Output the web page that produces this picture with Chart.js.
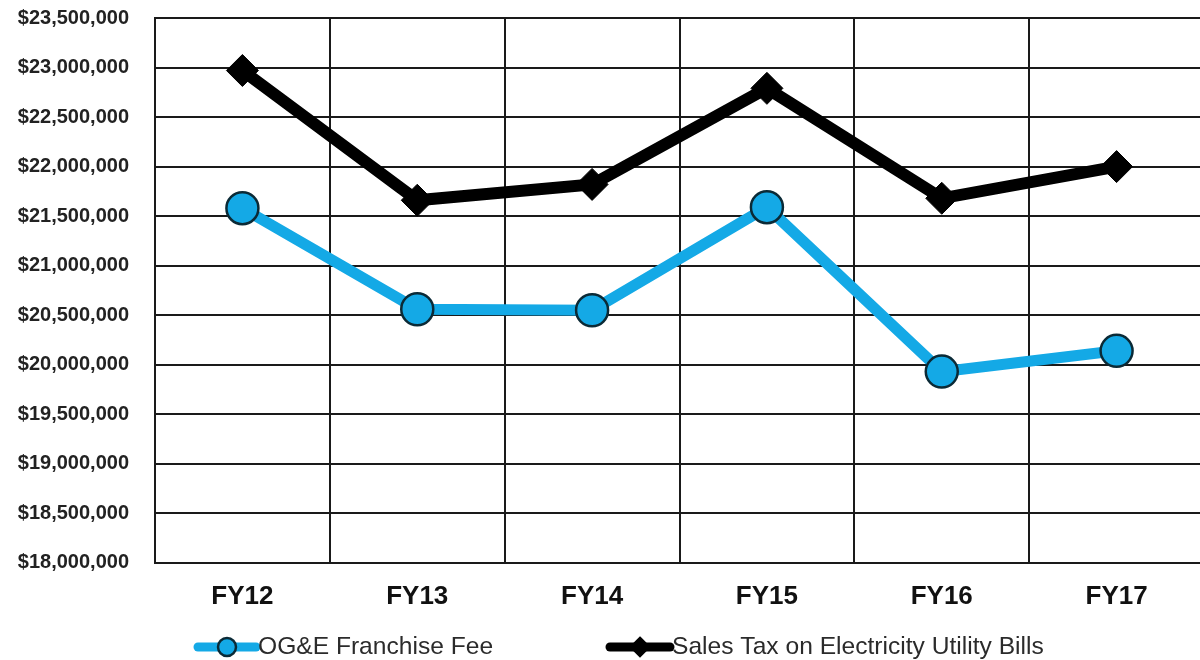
<!DOCTYPE html>
<html>
<head>
<meta charset="utf-8">
<script src="https://cdn.jsdelivr.net/npm/chart.js@4"></script>
<style>
  html, body { margin: 0; padding: 0; background: #fff; overflow: hidden; }
  #wrap { width: 1204px; height: 660px; }
</style>
</head>
<body>
<div id="wrap"><canvas id="chart"></canvas></div>
<script>
  // Data
  var years = ['FY12', 'FY13', 'FY14', 'FY15', 'FY16', 'FY17'];
  var franchiseFee = [21580000, 20560000, 20550000, 21590000, 19930000, 20140000];
  var salesTax = [22970000, 21660000, 21820000, 22790000, 21680000, 22000000];
  var seriesNames = ['OG&E Franchise Fee', 'Sales Tax on Electricity Utility Bills'];

  var blue = '#14A9E6';
  var gridColour = '#1a1a1a';
  var fontFamily = '"Liberation Sans", Arial, sans-serif';

  // Legend drawn by hand: line + marker + text, like the original
  var bottomLegend = {
    id: 'bottomLegend',
    afterDraw: function (chart) {
      var ctx = chart.ctx, y = 647;
      var items = [
        { x0: 198, x1: 256, tx: 258, ds: chart.data.datasets[0] },
        { x0: 610, x1: 670, tx: 672, ds: chart.data.datasets[1] }
      ];
      ctx.save();
      items.forEach(function (it) {
        var cx = (it.x0 + it.x1) / 2;
        // line
        ctx.strokeStyle = it.ds.borderColor;
        ctx.lineWidth = 9;
        ctx.lineCap = 'round';
        ctx.beginPath();
        ctx.moveTo(it.x0, y);
        ctx.lineTo(it.x1, y);
        ctx.stroke();
        // marker
        ctx.fillStyle = it.ds.pointBackgroundColor;
        ctx.strokeStyle = it.ds.pointBorderColor;
        ctx.lineWidth = 2.5;
        ctx.beginPath();
        if (it.ds.pointStyle === 'circle') {
          ctx.arc(cx, y, 9, 0, Math.PI * 2);
        } else {
          var r = 9;
          ctx.moveTo(cx, y - r); ctx.lineTo(cx + r, y); ctx.lineTo(cx, y + r); ctx.lineTo(cx - r, y); ctx.closePath();
        }
        ctx.fill();
        ctx.stroke();
        // text
        ctx.fillStyle = '#2b2b2b';
        ctx.font = '24.6px ' + fontFamily;
        ctx.textBaseline = 'middle';
        ctx.textAlign = 'left';
        ctx.fillText(it.ds.label, it.tx, y);
      });
      ctx.restore();
    }
  };

  new Chart(document.getElementById('chart'), {
    type: 'line',
    data: {
      labels: years,
      datasets: [
        {
          label: seriesNames[0],
          data: franchiseFee,
          borderColor: blue,
          borderWidth: 11,
          pointStyle: 'circle',
          pointRadius: 16,
          pointBackgroundColor: blue,
          pointBorderColor: '#0b2a36',
          pointBorderWidth: 2.5,
          tension: 0,
          order: 2
        },
        {
          label: seriesNames[1],
          data: salesTax,
          borderColor: '#000',
          borderWidth: 12,
          pointStyle: 'rectRot',
          pointRadius: 16,
          pointBackgroundColor: '#000',
          pointBorderColor: '#000',
          pointBorderWidth: 1,
          tension: 0,
          order: 1
        }
      ]
    },
    options: {
      responsive: true,
      maintainAspectRatio: false,
      animation: false,
      layout: { autoPadding: false, padding: { top: 18, right: 0, bottom: 30, left: 0 } },
      plugins: {
        legend: { display: false },
        tooltip: { enabled: false }
      },
      scales: {
        x: {
          offset: true,
          grid: { offset: true, color: gridColour, lineWidth: 2, drawTicks: false },
          border: { color: gridColour, width: 2 },
          ticks: {
            padding: 18,
            color: '#111',
            font: { family: fontFamily, size: 26, weight: 'bold' }
          }
        },
        y: {
          min: 18000000,
          max: 23500000,
          afterFit: function (scale) {
            scale.width = 155;
            scale.paddingTop = 0;
            scale.paddingBottom = 0;
          },
          grid: { color: gridColour, lineWidth: 2, drawTicks: false },
          border: { color: gridColour, width: 2 },
          ticks: {
            stepSize: 500000,
            padding: 26,
            color: '#222',
            font: { family: fontFamily, size: 20, weight: 'bold' },
            callback: function (v) { return '$' + v.toLocaleString('en-US'); }
          }
        }
      }
    },
    plugins: [bottomLegend]
  });
</script>
</body>
</html>
